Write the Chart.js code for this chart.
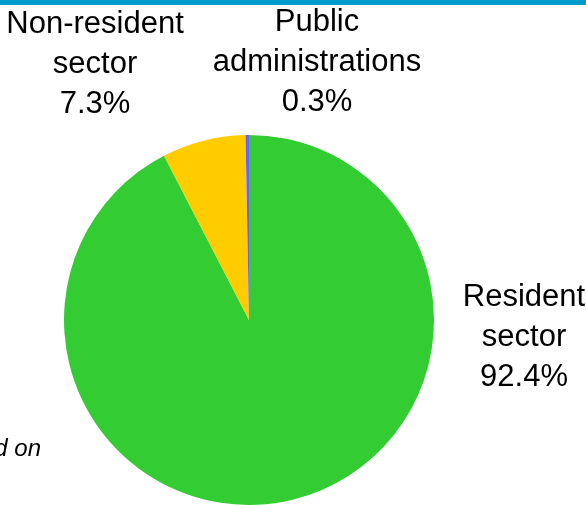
<!DOCTYPE html>
<html>
<head>
<meta charset="utf-8">
<title>Sector breakdown</title>
<script src="https://cdn.jsdelivr.net/npm/chart.js@4/dist/chart.umd.min.js"></script>
<style>
    html, body { margin: 0; padding: 0; background: #fff; overflow: hidden; }
    #wrap { position: relative; width: 586px; height: 505px; }
    #topbar { position: absolute; left: 0; top: 0; width: 586px; height: 5px; background: #0099cc; }
    #sectorPie { position: absolute; left: 0; top: 0; }
</style>
</head>
<body>
<div id="wrap">
    <canvas id="sectorPie" width="586" height="505"></canvas>
    <div id="topbar"></div>
</div>
<script>
// --- Data ---
const categories = [
    ['Resident', 'sector'],
    ['Non-resident', 'sector'],
    ['Public', 'administrations']
];
const shares = [92.4, 7.3, 0.3];
const sliceColors = ['#33cc33', '#ffcc00', '#6666ff'];

// Where each slice's label block is centred (x) and its first baseline (y)
const labelAnchors = [
    { x: 524, y: 306 },
    { x: 95, y: 33 },
    { x: 317, y: 31 }
];
const LINE_GAP = 40;
const LABEL_FONT = '31px "Liberation Sans", Arial, sans-serif';

/**
 * Writes category name + share under each other, Excel style
 */
const sliceLabels = {
    id: 'sliceLabels',
    afterDraw(chart) {
        const ctx = chart.ctx;
        ctx.save();
        ctx.font = LABEL_FONT;
        ctx.fillStyle = '#000';
        ctx.textAlign = 'center';
        ctx.textBaseline = 'alphabetic';
        categories.forEach((lines, i) => {
            const a = labelAnchors[i];
            const rows = [...lines, shares[i].toFixed(1) + '%'];
            rows.forEach((txt, r) => ctx.fillText(txt, a.x, a.y + r * LINE_GAP));
        });

        // source note, runs off the left edge
        ctx.font = 'italic 24px "Liberation Sans", Arial, sans-serif';
        ctx.textAlign = 'right';
        ctx.fillText('Calculations based on', 41, 456);
        ctx.restore();
    }
};

const ctx = document.getElementById('sectorPie').getContext('2d');

new Chart(ctx, {
    type: 'pie',
    data: {
        labels: categories.map(l => l.join(' ')),
        datasets: [{
            data: shares,
            backgroundColor: sliceColors,
            borderWidth: 0
        }]
    },
    options: {
        responsive: false,
        animation: false,
        layout: {
            padding: { left: 64, right: 152, top: 135, bottom: 0 }
        },
        plugins: {
            legend: { display: false },
            tooltip: { enabled: false }
        }
    },
    plugins: [sliceLabels]
});
</script>
</body>
</html>
